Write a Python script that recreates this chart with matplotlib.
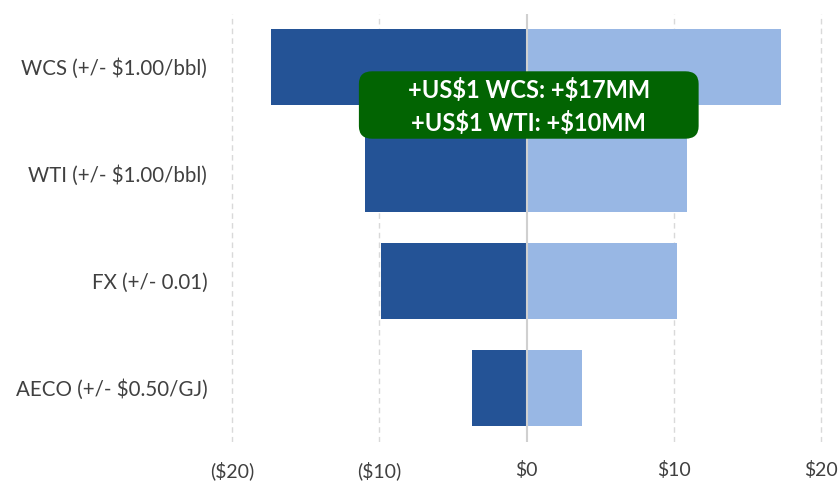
import matplotlib
matplotlib.use("Agg")
import matplotlib.pyplot as plt
from matplotlib.ticker import FuncFormatter
from matplotlib.patches import FancyBboxPatch

categories = ["WCS (+/- $1.00/bbl)", "WTI (+/- $1.00/bbl)", "FX (+/- 0.01)", "AECO (+/- $0.50/GJ)"]
downside = [-17.4, -11.0, -9.9, -3.7]
upside = [17.3, 10.9, 10.2, 3.8]
xticks = [-20, -10, 0, 10, 20]
note_lines = ["+US$1 WCS: +$17MM", "+US$1 WTI: +$10MM"]

plt.rcParams['font.family'] = ['Lato', 'DejaVu Sans']
plt.rcParams['text.parse_math'] = False

fig = plt.figure(figsize=(8.39, 4.83), dpi=100)
ax = fig.add_axes([0.2735, 0.0859, 0.9817 - 0.2735, 0.972 - 0.0859])

y = list(range(len(categories)))
ax.barh(y, downside, height=0.71, color='#245396', zorder=2)
ax.barh(y, upside, height=0.71, color='#98B7E4', zorder=2)

ax.set_xlim(-20.2, 20.2)
ax.set_ylim(len(categories) - 0.5, -0.5)
ax.set_xticks(xticks)
ax.xaxis.set_major_formatter(FuncFormatter(lambda v, p: f"(${abs(v):.0f})" if v < 0 else f"${v:.0f}"))
ax.set_yticks(y)
ax.set_yticklabels(categories)
ax.tick_params(axis='both', length=0, colors='#404040')
ax.tick_params(axis='y', pad=16, labelsize=14.8)
ax.tick_params(axis='x', pad=14, labelsize=14)

for v in xticks:
    if v != 0:
        ax.axvline(v, color='#D9D9D9', lw=1, ls=(0, (4, 3)), zorder=1)
ax.axvline(0, color='#D0D0D0', lw=1.5, zorder=3)

for s in ax.spines.values():
    s.set_visible(False)

box = FancyBboxPatch((-11.4, 0.04), 23.1, 0.63,
                     boxstyle='round,pad=0,rounding_size=0.9',
                     mutation_aspect=0.13, facecolor='#026402', edgecolor='none', zorder=5)
ax.add_patch(box)
ax.text(0.15, 0.365, "\n".join(note_lines), ha='center', va='center', fontsize=17,
        fontweight='bold', color='white', linespacing=1.45, zorder=6)

fig.savefig("out.png", dpi=100)
